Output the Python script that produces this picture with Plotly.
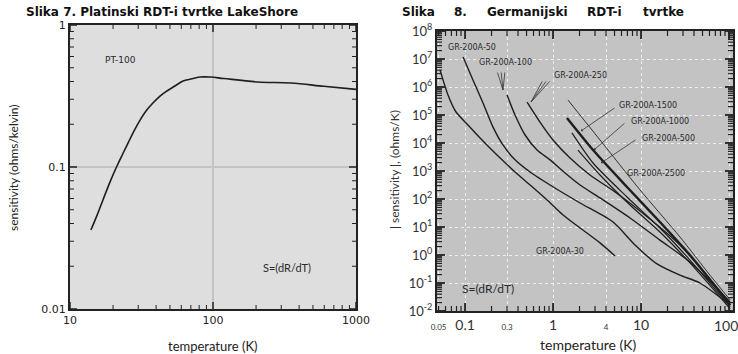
import math
import plotly.graph_objects as go

W, H = 738, 354

# ---------------- data ----------------
# Left panel: Pt-100 sensitivity
pt_T = [14.0, 15.5, 17.0, 19.0, 21.3, 23.5, 25.5, 28.0, 30.9, 34.0, 38.0, 42.6, 47.6, 54.2, 61.7, 70.2,
        81.0, 96.0, 119, 205, 350, 596, 1000]
pt_S = [0.036, 0.046, 0.0586, 0.078, 0.1016, 0.125, 0.148, 0.179, 0.214, 0.248, 0.282, 0.316, 0.343, 0.372,
        0.403, 0.417, 0.43, 0.43, 0.42, 0.397, 0.39, 0.37, 0.352]

# Right panel: germanium RTDs
gr30_T = [0.052, 0.064, 0.079, 0.108, 0.156, 0.231, 0.370, 0.548, 0.855, 1.30, 2.03, 3.42, 5.07]
gr30_S = [4.0e6, 5.2e5, 1.28e5, 4.4e4, 1.28e4, 3.7e3, 920, 316, 92, 27, 9.2, 2.7, 0.92]

gr50_T = [0.095, 0.123, 0.160, 0.208, 0.270, 0.370, 0.548, 1.05, 2.03, 4.81, 8.55, 15.2, 27.7, 46.8, 103]
gr50_S = [1.18e7, 1.78e6, 2.7e5, 3.7e4, 8.5e3, 2.5e3, 920, 247, 72, 15.1, 2.28, 0.48, 0.19, 0.10, 0.016]

gr100_T = [0.300, 0.370, 0.481, 0.658, 0.925, 1.37, 2.03, 3.42, 7.50, 16.4, 36.0, 103]
gr100_S = [5.2e5, 1.0e5, 1.93e4, 5.6e3, 2.5e3, 849, 316, 109, 21, 3.4, 0.56, 0.021]

gr250_T = [0.507, 0.711, 1.0, 1.56, 2.63, 5.07, 11.1, 27.7, 103]
gr250_S = [2.9e5, 5.6e4, 1.28e4, 2.9e3, 720, 178, 27, 2.28, 0.019]

gr500_T = [1.92, 3.42, 7.50, 16.4, 36.0, 103]
gr500_S = [5.6e3, 720, 61, 6.6, 0.52, 0.012]

gr1000_T = [1.64, 2.85, 6.93, 16.4, 36.0, 103]
gr1000_S = [2.3e4, 1.93e3, 118, 9.2, 0.66, 0.014]

gr1500_T = [1.44, 2.85, 6.93, 16.4, 36.0, 103]
gr1500_S = [7.8e4, 5.6e3, 268, 15.1, 1.0, 0.016]

gr2500_T = [1.48, 3.42, 9.75, 27.7, 60.8, 103]
gr2500_S = [3.4e5, 1.28e4, 210, 4.4, 0.19, 0.025]

right_xticks = [0.05, 0.1, 0.3, 1, 4, 10, 100]
right_xlabels = ["0.05", "0.1", "0.3", "1", "4", "10", ""]
right_yexp = list(range(-2, 9))

# ---------------- figure ----------------
fig = go.Figure()

def P(px, py):
    return px / W, 1 - py / H

LINE = "#1e1e1e"

fig.add_trace(go.Scatter(x=pt_T, y=pt_S, mode="lines", line=dict(color=LINE, width=1.6, shape="spline", smoothing=1.0),
                         xaxis="x", yaxis="y", showlegend=False))

series = [
    (gr30_T, gr30_S, 1.4), (gr50_T, gr50_S, 1.4), (gr100_T, gr100_S, 1.4), (gr250_T, gr250_S, 1.4),
    (gr500_T, gr500_S, 1.2), (gr1000_T, gr1000_S, 1.2), (gr1500_T, gr1500_S, 2.4), (gr2500_T, gr2500_S, 0.9),
]
for tx, sy, w in series:
    fig.add_trace(go.Scatter(x=tx, y=sy, mode="lines", line=dict(color=LINE, width=w, shape="spline", smoothing=0.7),
                             xaxis="x2", yaxis="y2", showlegend=False))

AX = "#222222"
TICKFONT = dict(family="DejaVu Sans", size=11, color="#222")

L_XR = [1, 3]
L_YR = [-2, 0]
R_XR = [math.log10(0.048), math.log10(111)]
R_YR = [-2, 8]
L_DOM_X = [70 / W, 356 / W]
L_DOM_Y = [1 - 309 / H, 1 - 25 / H]
R_DOM_X = [437 / W, 733 / W]
R_DOM_Y = [1 - 311 / H, 1 - 31 / H]

common = dict(type="log", showline=True, linecolor=AX, linewidth=2, mirror=True, zeroline=False,
              automargin=False, ticks="")

fig.update_layout(
    width=W, height=H, margin=dict(l=0, r=0, t=0, b=0, autoexpand=False),
    paper_bgcolor="white", plot_bgcolor="#dedede",
    xaxis=dict(common, domain=L_DOM_X, range=L_XR, anchor="y",
               tickmode="linear", tick0=0, dtick=1,
               showgrid=True, gridcolor="#c4c4c4", gridwidth=2, tickfont=TICKFONT),
    yaxis=dict(common, domain=L_DOM_Y, range=L_YR, anchor="x",
               tickmode="linear", tick0=0, dtick=1,
               showgrid=True, gridcolor="#c4c4c4", gridwidth=2, tickfont=TICKFONT),
    xaxis2=dict(common, domain=R_DOM_X, range=R_XR, anchor="y2",
                tickmode="array", tickvals=right_xticks,
                ticktext=[('<span style="font-size:8px">%s</span>' % t) if t in ("0.05", "0.3", "4") else t
                          for t in right_xlabels],
                showgrid=True, gridcolor="#eeeeee", gridwidth=1, griddash="dot",
                tickfont=dict(family="Lato", size=14, color="#333")),
    yaxis2=dict(common, domain=R_DOM_Y, range=R_YR, anchor="x2",
                tickmode="array", tickvals=[10 ** e for e in right_yexp],
                ticktext=["10<sup>%d</sup>" % e for e in right_yexp],
                showgrid=True, gridcolor="#eeeeee", gridwidth=1, griddash="dot",
                tickfont=dict(family="Lato", size=13, color="#333")),
)

# darker plot-area background for the right panel
fig.add_shape(type="rect", xref="x2 domain", yref="y2 domain", x0=0, x1=1, y0=0, y1=1,
              fillcolor="#c3c3c3", line=dict(width=0), layer="below")

# ---- inward tick marks on all four sides (axis furniture, placed in axis-domain fractions) ----
def tick_values(lo, hi):
    major, minor = [], []
    for e in range(math.floor(lo) - 1, math.ceil(hi) + 1):
        for m in range(1, 10):
            lv = math.log10(m * 10.0 ** e)
            if lo - 1e-9 <= lv <= hi + 1e-9:
                (major if m == 1 else minor).append(lv)
    return major, minor

shapes = []

def add_ticks(xa, ya, xr, yr, domx, domy, majlen, minlen, majw, minw):
    pw = (domx[1] - domx[0]) * W
    ph = (domy[1] - domy[0]) * H
    xmaj, xmin = tick_values(*xr)
    ymaj, ymin = tick_values(*yr)
    for vals, ln, wd in ((xmaj, majlen, majw), (xmin, minlen, minw)):
        for lv in vals:
            f = (lv - xr[0]) / (xr[1] - xr[0])
            d = ln / ph
            for y0, y1 in ((0, d), (1, 1 - d)):
                shapes.append(dict(type="line", xref=xa + " domain", yref=ya + " domain",
                                   x0=f, x1=f, y0=y0, y1=y1, line=dict(color=AX, width=wd), layer="above"))
    for vals, ln, wd in ((ymaj, majlen, majw), (ymin, minlen, minw)):
        for lv in vals:
            f = (lv - yr[0]) / (yr[1] - yr[0])
            d = ln / pw
            for x0, x1 in ((0, d), (1, 1 - d)):
                shapes.append(dict(type="line", xref=xa + " domain", yref=ya + " domain",
                                   x0=x0, x1=x1, y0=f, y1=f, line=dict(color=AX, width=wd), layer="above"))

add_ticks("x", "y", L_XR, L_YR, L_DOM_X, L_DOM_Y, 7, 4, 1.5, 1.0)
add_ticks("x2", "y2", R_XR, R_YR, R_DOM_X, R_DOM_Y, 8, 5, 1.8, 1.2)
for s in shapes:
    fig.add_shape(**s)

ann = []

def text(px, py, s, size=9, family="DejaVu Sans", color="#2a2a2a", bold=False, angle=0, xanchor="center"):
    x, y = P(px, py)
    ann.append(dict(x=x, y=y, xref="paper", yref="paper", text=("<b>%s</b>" % s) if bold else s,
                    showarrow=False, textangle=angle, xanchor=xanchor, yanchor="middle",
                    font=dict(family=family, size=size, color=color)))

def arrow(tip, tail, head=0):
    x, y = P(*tip)
    ann.append(dict(x=x, y=y, xref="paper", yref="paper", text="", showarrow=True,
                    ax=tail[0] - tip[0], ay=tail[1] - tip[1], arrowhead=head, arrowsize=0.7,
                    arrowwidth=0.8, arrowcolor="#333"))

# titles
text(24, 12, "Slika 7. Platinski RDT-i tvrtke LakeShore", size=12, bold=True, color="#111", xanchor="left")
for px, word in [(400, "Slika"), (452, "8."), (485, "Germanijski"), (585, "RDT-i"), (641, "tvrtke")]:
    text(px, 12, word, size=12, bold=True, color="#111", xanchor="left")

# axis titles
text(13, 168, "sensitivity (ohms/kelvin)", size=12, family="Lato", angle=-90, color="#222")
text(212, 346, "temperature (K)", size=13, family="Lato", color="#222")
text(394, 170, "| sensitivity |, (ohms/K)", size=12, family="Lato", angle=-90, color="#333")
text(588, 344, "temperature (K)", size=14, family="Lato", color="#222")
text(726, 325, "100", size=14, family="Lato", color="#333")

# in-plot labels
text(120, 60, "PT-100", size=9)
text(287, 267, "S=(dR/dT)", size=11, family="Lato")
text(488, 288, "S=(dR/dT)", size=12, family="Lato")
text(472, 48, "GR-200A-50", size=8)
text(506, 63, "GR-200A-100", size=8)
text(580, 75, "GR-200A-250", size=8)
text(648, 105, "GR-200A-1500", size=8)
text(660, 121, "GR-200A-1000", size=8)
text(668, 138, "GR-200A-500", size=8)
text(656, 173, "GR-200A-2500", size=8)
text(560, 251, "GR-200A-30", size=8)

# leader lines
for tx in (497, 501, 505):
    arrow((503, 90), (tx, 71))
for tx in (543, 547, 551):
    arrow((531, 102), (tx, 80))
arrow((581, 131), (616, 107), head=1)
arrow((594, 150), (626, 122), head=1)
arrow((601, 163), (637, 139), head=1)

fig.update_layout(annotations=ann)
fig.write_html("out.html")
